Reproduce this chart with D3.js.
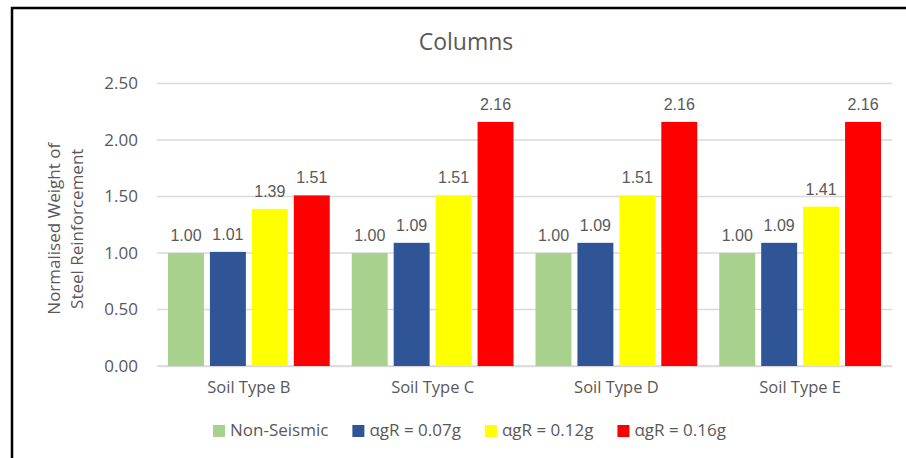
<!DOCTYPE html>
<html>
<head>
<meta charset="utf-8">
<script src="https://cdn.jsdelivr.net/npm/d3@7"></script>
<style>
  html, body { margin: 0; padding: 0; background: #fff; }
  svg { display: block; }
</style>
</head>
<body>
<svg id="chart" width="906" height="458"></svg>
<script>
// Soil types on the x axis
const categories = ["Soil Type B", "Soil Type C", "Soil Type D", "Soil Type E"];
// Series names (legend order)
const seriesNames = ["Non-Seismic", "\u03b1gR = 0.07g", "\u03b1gR = 0.12g", "\u03b1gR = 0.16g"];
const seriesColors = ["#a9d18e", "#2f5597", "#ffff00", "#ff0000"];
// Normalised weight of steel reinforcement per series, one value per soil type
const nonSeismic = [1.00, 1.00, 1.00, 1.00];
const ag007 = [1.01, 1.09, 1.09, 1.09];
const ag012 = [1.39, 1.51, 1.51, 1.41];
const ag016 = [1.51, 2.16, 2.16, 2.16];
const yTicks = [0, 0.5, 1.0, 1.5, 2.0, 2.5];

const seriesValues = [nonSeismic, ag007, ag012, ag016];

const svg = d3.select("#chart");
const textColor = "#595959";
const gridColor = "#d9d9d9";
const font = "'Open Sans', sans-serif";

// outer frame
svg.append("rect")
  .attr("x", 12).attr("y", 8)
  .attr("width", 906).attr("height", 470)
  .attr("fill", "none").attr("stroke", "#000").attr("stroke-width", 2.5);

const plot = { left: 157, right: 892, top: 83.5, bottom: 366 };

const x0 = d3.scaleBand().domain(categories).range([plot.left, plot.right]).padding(0);
const x1 = d3.scaleBand().domain(d3.range(seriesNames.length))
  .range([11, x0.bandwidth() - 11]).paddingInner(0.143).paddingOuter(0);
const y = d3.scaleLinear().domain([0, 2.5]).range([plot.bottom, plot.top]);

// gridlines
svg.append("g").selectAll("line").data(yTicks).join("line")
  .attr("x1", plot.left).attr("x2", plot.right)
  .attr("y1", d => y(d)).attr("y2", d => y(d))
  .attr("stroke", gridColor).attr("stroke-width", 1.3);

// y axis tick labels
const yAxis = d3.axisLeft(y).tickValues(yTicks).tickFormat(d3.format(".2f")).tickSize(0).tickPadding(19);
const gy = svg.append("g").attr("transform", `translate(${plot.left},0)`).call(yAxis);
gy.select(".domain").remove();
gy.selectAll("text").attr("fill", textColor).attr("font-family", font).attr("font-size", 17);

// x axis baseline and category labels
const xAxis = d3.axisBottom(x0).tickSize(0).tickPadding(15);
const gx = svg.append("g").attr("transform", `translate(0,${plot.bottom})`).call(xAxis);
gx.select(".domain").attr("stroke", gridColor).attr("stroke-width", 1.5);
gx.selectAll("text").attr("fill", textColor).attr("font-family", font).attr("font-size", 16.5);

// bars
const groups = svg.append("g").selectAll("g").data(categories).join("g")
  .attr("transform", d => `translate(${x0(d)},0)`);

groups.selectAll("rect")
  .data((c, ci) => seriesValues.map((vals, si) => ({ si, v: vals[ci] })))
  .join("rect")
  .attr("x", d => x1(d.si))
  .attr("width", x1.bandwidth())
  .attr("y", d => y(d.v))
  .attr("height", d => y(0) - y(d.v))
  .attr("fill", d => seriesColors[d.si]);

// value labels
groups.selectAll("text.val")
  .data((c, ci) => seriesValues.map((vals, si) => ({ si, v: vals[ci] })))
  .join("text")
  .attr("class", "val")
  .attr("x", d => x1(d.si) + x1.bandwidth() / 2)
  .attr("y", d => y(d.v) - 12)
  .attr("text-anchor", "middle")
  .attr("fill", textColor)
  .attr("font-family", "'Liberation Sans', Arial, sans-serif")
  .attr("font-size", 16)
  .text(d => d.v.toFixed(2));

// chart title
svg.append("text")
  .attr("x", 466).attr("y", 50)
  .attr("text-anchor", "middle")
  .attr("fill", textColor)
  .attr("font-family", font)
  .attr("font-size", 23)
  .text("Columns");

// y axis title
const yTitle = svg.append("text")
  .attr("transform", `translate(60,${(plot.top + plot.bottom) / 2 + 4}) rotate(-90)`)
  .attr("text-anchor", "middle")
  .attr("fill", textColor)
  .attr("font-family", font)
  .attr("font-size", 17);
yTitle.append("tspan").attr("x", 0).attr("dy", 0).text("Normalised Weight of");
yTitle.append("tspan").attr("x", 0).attr("dy", 23).text("Steel Reinforcement");

// legend
const legend = svg.append("g");
let lx = 0;
seriesNames.forEach((name, i) => {
  const item = legend.append("g").attr("transform", `translate(${lx},0)`);
  item.append("rect").attr("x", 0).attr("y", -11).attr("width", 12).attr("height", 12)
    .attr("fill", seriesColors[i]);
  const t = item.append("text").attr("x", 17).attr("y", 0)
    .attr("fill", textColor).attr("font-family", font).attr("font-size", 17)
    .text(name);
  lx += 17 + t.node().getComputedTextLength() + 24;
});
const legendWidth = lx - 24;
legend.attr("transform", `translate(${469.5 - legendWidth / 2},436)`);
</script>
</body>
</html>
